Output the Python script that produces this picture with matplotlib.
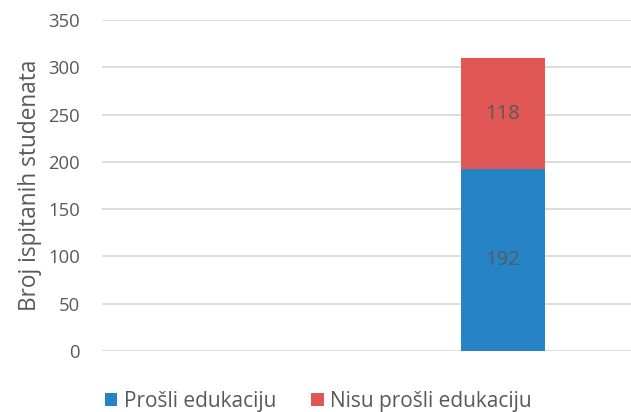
import matplotlib
matplotlib.use("Agg")
import matplotlib.pyplot as plt

categories = [""]
series_names = ["Prošli edukaciju", "Nisu prošli edukaciju"]
prosli = [192]
nisu = [118]
yticks = [0, 50, 100, 150, 200, 250, 300, 350]
colors = ["#2683c6", "#e15755"]
txt = "#595959"

plt.rcParams['font.family'] = ['Open Sans', 'DejaVu Sans']

fig = plt.figure(figsize=(6.31, 4.12), dpi=100)
ax = fig.add_axes([102/631, 1-351/412, 529/631, 331/412])

x = list(range(len(categories)))
b1 = ax.bar(x, prosli, width=0.6, color=colors[0], label=series_names[0], zorder=3)
b2 = ax.bar(x, nisu, width=0.6, bottom=prosli, color=colors[1], label=series_names[1], zorder=3)
ax.bar_label(b1, label_type='center', color=txt, fontsize=14.5)
ax.bar_label(b2, label_type='center', color=txt, fontsize=14.5)

ax.set_xlim(-2.865, 0.915)
ax.set_ylim(0, 350)
ax.set_yticks(yticks)
ax.set_xticks([])
ax.grid(axis='y', color='#d9d9d9', linewidth=1.3, zorder=0)
for s in ax.spines.values():
    s.set_visible(False)
ax.tick_params(axis='y', length=0, labelsize=13.3, labelcolor=txt, pad=16)
ax.set_ylabel("Broj ispitanih studenata", fontsize=16.3, color=txt, labelpad=4)

fig.legend(handles=[b1, b2], labels=series_names, loc='lower left',
           bbox_to_anchor=(86/631, -0.045), ncol=2, frameon=False,
           fontsize=15, labelcolor=txt, handlelength=0.6, handleheight=0.6,
           handletextpad=0.3, columnspacing=1.7)

fig.savefig("out.png", dpi=100)
